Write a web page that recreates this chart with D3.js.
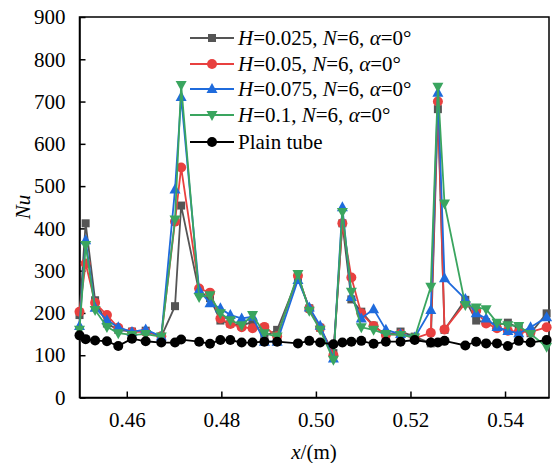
<!DOCTYPE html>
<html>
<head>
<meta charset="utf-8">
<script src="https://cdn.jsdelivr.net/npm/d3@7"></script>
<style>
  body { margin: 0; background: #fff; }
  svg, svg text { font-family: "Liberation Serif", "Times New Roman", Times, "DejaVu Serif", serif; }
</style>
</head>
<body>
<div id="chart"></div>
<script>
// axial positions shared by every series (m)
const xPos = [0.4500, 0.4513, 0.4533, 0.4558, 0.4582, 0.4611, 0.4640, 0.4673, 0.4702, 0.4715,
              0.4753, 0.4776, 0.4798, 0.4819, 0.4843, 0.4866, 0.4891, 0.4918, 0.4962, 0.4986,
              0.5009, 0.5037, 0.5056, 0.5075, 0.5096, 0.5122, 0.5148, 0.5179, 0.5209, 0.5243,
              0.5258, 0.5272, 0.5316, 0.5339, 0.5360, 0.5383, 0.5406, 0.5429, 0.5454, 0.5488];

const nuH025 = [195, 412, 230, 175, 160, 156, 158, 144, 216, 454,
                250, 235, 182, 175, 170, 179, 144, 160, 284, 211,
                165, 105, 412, 232, 203, 170, 148, 156, 144, 128,
                682, 160, 231, 182, 178, 172, 177, 164, 152, 199];
const nuH05 = [203, 317, 224, 195, 165, 155, 155, 145, 416, 544,
               258, 248, 187, 174, 166, 164, 167, 145, 288, 210,
               165, 100, 412, 284, 199, 169, 148, 150, 140, 153,
               700, 161, 223, 205, 175, 164, 158, 155, 155, 166];
const nuH075 = [169, 372, 212, 183, 166, 155, 161, 144, 492, 711,
                254, 223, 211, 195, 187, 191, 132, 132, 278, 213,
                170, 92, 450, 238, 187, 209, 160, 150, 142, 207,
                721, 282, 233, 199, 187, 167, 157, 152, 166, 190];
const nuH1 = [160, 361, 207, 167, 152, 148, 150, 144, 421, 739,
              238, 242, 199, 183, 171, 195, 152, 144, 292, 205,
              160, 89, 439, 250, 166, 160, 150, 148, 142, 262,
              735, 459, 219, 213, 209, 177, 171, 169, 150, 120];
const nuPlain = [147, 138, 135, 133, 122, 139, 133, 130, 130, 137,
                 132, 127, 136, 136, 130, 130, 132, 132, 128, 134,
                 130, 126, 130, 132, 134, 127, 132, 132, 136, 130,
                 130, 134, 123, 132, 128, 128, 122, 134, 130, 136];

const xTicks = [0.46, 0.48, 0.50, 0.52, 0.54];
const yTicks = [0, 100, 200, 300, 400, 500, 600, 700, 800, 900];

const seriesNames = ["H=0.025", "H=0.05", "H=0.075", "H=0.1", "Plain tube"];
const seriesValues = [nuH025, nuH05, nuH075, nuH1, nuPlain];
const seriesColours = ["#555555", "#e8403f", "#1f6bdc", "#3aa55f", "#000000"];
const seriesSymbols = ["square", "circle", "up", "down", "plain"];

const serif = '"Liberation Serif", "Times New Roman", Times, "DejaVu Serif", serif';
const w = 552, h = 463;
const svg = d3.select("#chart").append("svg")
    .attr("width", w)
    .attr("height", h)
    .attr("font-family", serif);

const xScale = d3.scaleLinear()
    .domain([0.45, 0.5493])
    .range([79.5, 549]);

const yScale = d3.scaleLinear()
    .domain([0, 900])
    .range([397.5, 17]);

// frame
svg.append("rect")
    .attr("x", xScale.range()[0])
    .attr("y", yScale.range()[1])
    .attr("width", xScale.range()[1] - xScale.range()[0])
    .attr("height", yScale.range()[0] - yScale.range()[1])
    .attr("fill", "none")
    .attr("stroke", "#000")
    .attr("stroke-width", 1.5);

const xAxis = svg.append("g")
    .attr("transform", `translate(0,${yScale.range()[0]})`)
    .call(d3.axisBottom(xScale).tickValues(xTicks).tickFormat(d3.format(".2f"))
      .tickSizeInner(-6).tickSizeOuter(0).tickPadding(14));

const yAxis = svg.append("g")
    .attr("transform", `translate(${xScale.range()[0]},0)`)
    .call(d3.axisLeft(yScale).tickValues(yTicks).tickFormat(d3.format("d"))
      .tickSizeInner(-6).tickSizeOuter(0).tickPadding(14));

[xAxis, yAxis].forEach(function(ax) {
  ax.attr("font-family", serif).attr("font-size", 21);
  ax.select(".domain").attr("stroke-width", 1.5);
  ax.selectAll(".tick line").attr("stroke-width", 1.5);
  ax.selectAll(".tick text").attr("fill", "#000");
});
xAxis.selectAll(".tick text").attr("dy", "0.75em");

// axis titles
svg.append("text")
    .attr("transform", "translate(30,207) rotate(-90)")
    .attr("text-anchor", "middle")
    .attr("font-size", 21)
    .attr("font-style", "italic")
    .text("Nu");

const xTitle = svg.append("text")
    .attr("x", 314)
    .attr("y", 459)
    .attr("text-anchor", "middle")
    .attr("font-size", 21);
xTitle.append("tspan").attr("font-style", "italic").text("x");
xTitle.append("tspan").text("/(m)");

function drawMarker(g, type, colour, cx, cy) {
  if (type === "square") {
    g.append("rect")
        .attr("x", cx - 4).attr("y", cy - 4)
        .attr("width", 8).attr("height", 8)
        .attr("fill", colour);
  } else if (type === "up") {
    g.append("path")
        .attr("d", `M${cx},${cy - 6}L${cx + 5.5},${cy + 4}L${cx - 5.5},${cy + 4}Z`)
        .attr("fill", colour);
  } else if (type === "down") {
    g.append("path")
        .attr("d", `M${cx},${cy + 6}L${cx + 5.5},${cy - 4}L${cx - 5.5},${cy - 4}Z`)
        .attr("fill", colour);
  } else {
    g.append("circle").attr("cx", cx).attr("cy", cy).attr("r", 5).attr("fill", colour);
  }
}

const line = d3.line()
    .x(function(d) { return xScale(d.x); })
    .y(function(d) { return yScale(d.y); });

seriesValues.forEach(function(vals, i) {
  let data = vals.map(function(v, j) { return {x: xPos[j], y: v}; });
  let g = svg.append("g").attr("class", "series");
  g.append("path")
      .datum(data)
      .attr("d", line)
      .attr("fill", "none")
      .attr("stroke", seriesColours[i])
      .attr("stroke-width", 1.8);
  data.forEach(function(d) {
    drawMarker(g, seriesSymbols[i], seriesColours[i], xScale(d.x), yScale(d.y));
  });
});

// legend
const legendRows = [38, 64, 89, 115, 142];
const legend = svg.append("g");
seriesNames.forEach(function(name, i) {
  let y = legendRows[i];
  legend.append("line")
      .attr("x1", 190).attr("x2", 234)
      .attr("y1", y).attr("y2", y)
      .attr("stroke", seriesColours[i])
      .attr("stroke-width", 1.8);
  drawMarker(legend, seriesSymbols[i], seriesColours[i], 212, y);
  let t = legend.append("text")
      .attr("x", 238)
      .attr("y", y)
      .attr("dy", "0.35em")
      .attr("font-size", 21);
  if (i < 4) {
    t.append("tspan").attr("font-style", "italic").text("H");
    t.append("tspan").text(name.slice(1) + ", ");
    t.append("tspan").attr("font-style", "italic").text("N");
    t.append("tspan").text("=6, ");
    t.append("tspan").attr("font-style", "italic").text("\u03b1");
    t.append("tspan").text("=0\u00b0");
  } else {
    t.text(name);
  }
});
</script>
</body>
</html>
